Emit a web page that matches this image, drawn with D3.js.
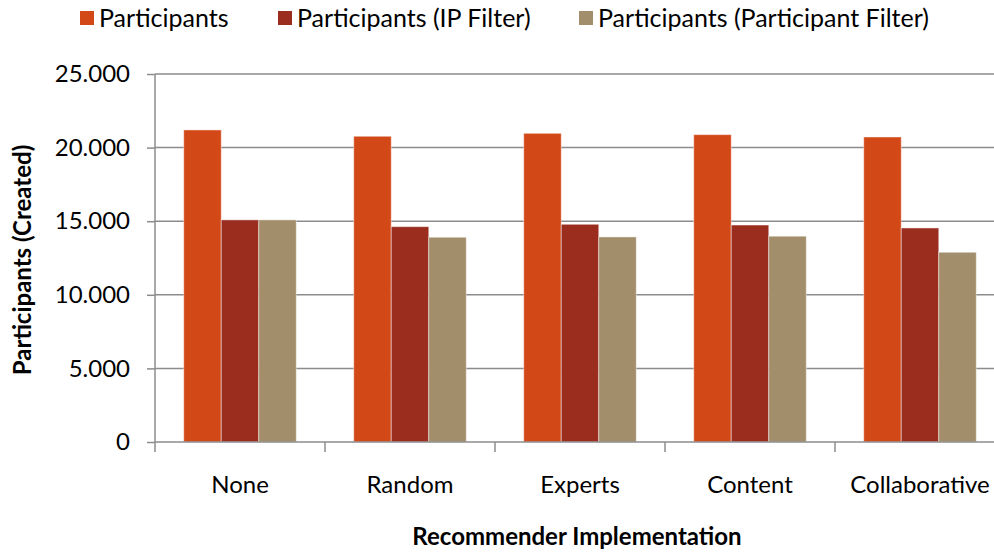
<!DOCTYPE html>
<html><head><meta charset="utf-8">
<script src="https://cdn.jsdelivr.net/npm/d3@7/dist/d3.min.js"></script>
<style>body{margin:0;background:#fff;} svg{display:block;font-family:Lato,"Open Sans",sans-serif;}</style>
</head><body>
<svg id="c" width="994" height="553"></svg>
<script>
const categories = ["None","Random","Experts","Content","Collaborative"];
const seriesNames = ["Participants","Participants (IP Filter)","Participants (Participant Filter)"];
const participants = [21200,20770,20970,20880,20720];
const ipFilter = [15090,14630,14790,14740,14540];
const participantFilter = [15090,13910,13930,13980,12890];
const yTicks = [0,5000,10000,15000,20000,25000];
const colors = ["#D34817","#9B2D1F","#A28E6A"];

const series = [participants, ipFilter, participantFilter];
const svg = d3.select("#c");
const m = {left:155, right:1005, top:74, bottom:442};

const x = d3.scaleBand().domain(categories).range([m.left, m.right]).paddingInner(0.338).paddingOuter(0.169);
const x1 = d3.scaleBand().domain(d3.range(3)).range([0, x.bandwidth()]);
const y = d3.scaleLinear().domain([0,25000]).range([m.bottom, m.top]);
const fmt = d => d3.format(",")(d).replace(/,/g,".");

// gridlines
svg.append("g").selectAll("line").data(yTicks.filter(d=>d>0)).join("line")
  .attr("x1", m.left).attr("x2", 994).attr("y1", d=>y(d)).attr("y2", d=>y(d))
  .attr("stroke","#8c8c8c").attr("stroke-width",1.5);

// bars
const g = svg.append("g");
categories.forEach((c,i)=>{
  series.forEach((s,j)=>{
    g.append("rect").attr("x", x(c)+x1(j)).attr("width", x1.bandwidth())
     .attr("y", y(s[i])).attr("height", y(0)-y(s[i]))
     .attr("fill", colors[j]).attr("stroke","rgba(255,255,255,0.45)").attr("stroke-width",1);
  });
});

// y axis
const ya = svg.append("g").attr("transform",`translate(${m.left},0)`)
  .call(d3.axisLeft(y).tickValues(yTicks).tickFormat(fmt).tickSize(8).tickPadding(17));
ya.select(".domain").attr("stroke","#8c8c8c").attr("stroke-width",1.5).attr("d",`M-0,${m.top}V${m.bottom}`);
ya.selectAll(".tick line").attr("stroke","#8c8c8c").attr("stroke-width",1.5);
ya.selectAll("text").attr("font-size",24).attr("fill","#000").attr("font-family","Lato,sans-serif");

// x axis
const xa = svg.append("g").attr("transform",`translate(0,${m.bottom})`)
  .call(d3.axisBottom(x).tickSize(0).tickPadding(34));
xa.select(".domain").attr("stroke","#8c8c8c").attr("stroke-width",1.5).attr("d",`M${m.left},0H994`);
xa.selectAll("text").attr("font-size",24).attr("fill","#000").attr("font-family","Lato,sans-serif");
// boundary ticks
xa.append("g").selectAll("line").data(d3.range(categories.length)).join("line")
  .attr("x1", i=>m.left + i*x.step()).attr("x2", i=>m.left + i*x.step())
  .attr("y1",0).attr("y2",10).attr("stroke","#8c8c8c").attr("stroke-width",1.5);

// axis titles
svg.append("text").attr("x", 577).attr("y", 545).attr("text-anchor","middle")
  .attr("font-size",24).attr("font-weight","bold").text("Recommender Implementation");
svg.append("text").attr("transform","translate(31,260) rotate(-90)").attr("text-anchor","middle")
  .attr("font-size",24).attr("font-weight","bold").text("Participants (Created)");

// legend
const lx = [80, 278, 579];
const lg = svg.append("g");
seriesNames.forEach((n,j)=>{
  lg.append("rect").attr("x", lx[j]).attr("y", 11).attr("width",14).attr("height",14).attr("fill",colors[j]);
  lg.append("text").attr("x", lx[j]+19).attr("y", 27).attr("font-size",25).text(n);
});
</script>
</body></html>
